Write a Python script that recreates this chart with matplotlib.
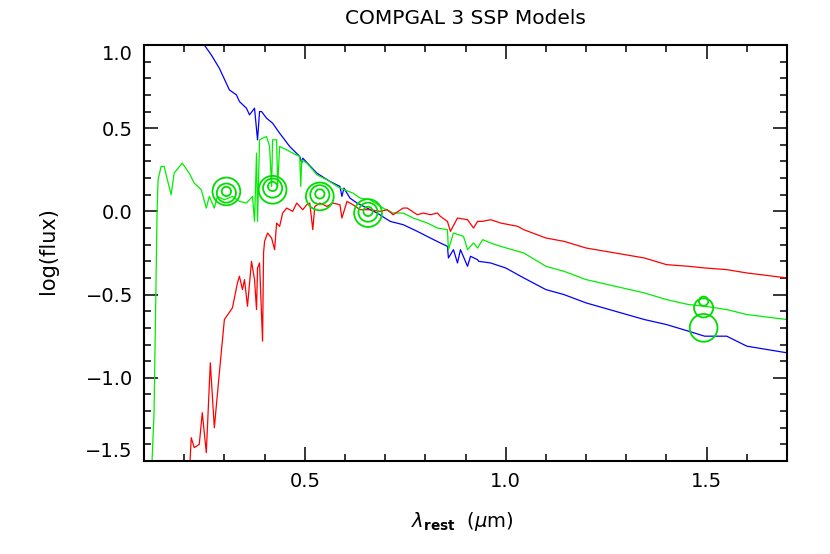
import matplotlib
matplotlib.use("Agg")
import matplotlib.pyplot as plt

# young SSP (blue)
blue_wave = [0.25, 0.2675, 0.2875, 0.3125, 0.33, 0.3375, 0.355, 0.3625, 0.375, 0.3825,
             0.3875, 0.3925, 0.405, 0.42, 0.4375, 0.4625, 0.4875, 0.4925, 0.495, 0.53,
             0.5625, 0.5875, 0.5925, 0.5975, 0.6125, 0.63, 0.68, 0.7125, 0.745, 0.78,
             0.8125, 0.8375, 0.855, 0.8575, 0.87, 0.88, 0.8875, 0.905, 0.9125, 0.93,
             0.9325, 0.9625, 1.0, 1.045, 1.10, 1.145, 1.20, 1.345, 1.40, 1.455,
             1.495, 1.55, 1.60, 1.70]
blue_flux = [1.0, 0.94, 0.86, 0.73, 0.70, 0.66, 0.62, 0.58, 0.62, 0.43,
             0.60, 0.60, 0.56, 0.53, 0.47, 0.39, 0.33, 0.29, 0.32, 0.23,
             0.18, 0.15, 0.09, 0.14, 0.08, 0.05, -0.01, -0.06, -0.08, -0.12,
             -0.16, -0.19, -0.21, -0.28, -0.23, -0.31, -0.23, -0.33, -0.27, -0.29,
             -0.30, -0.31, -0.34, -0.40, -0.47, -0.50, -0.55, -0.65, -0.68, -0.72,
             -0.75, -0.75, -0.81, -0.85]

# intermediate SSP (green)
green_wave = [0.115, 0.12, 0.125, 0.13, 0.1325, 0.135, 0.1425, 0.15, 0.1675, 0.175,
              0.195, 0.2125, 0.225, 0.2425, 0.255, 0.2625, 0.275, 0.2825, 0.30, 0.32,
              0.3375, 0.355, 0.3625, 0.37, 0.375, 0.38, 0.3825, 0.3875, 0.395, 0.405,
              0.4125, 0.4175, 0.42, 0.43, 0.4325, 0.4375, 0.455, 0.47, 0.4875, 0.49,
              0.4925, 0.505, 0.52, 0.53, 0.555, 0.5875, 0.62, 0.6375, 0.6625, 0.695,
              0.72, 0.745, 0.77, 0.805, 0.83, 0.855, 0.8575, 0.87, 0.895, 0.905,
              0.92, 0.93, 0.9425, 0.9625, 0.9875, 1.03, 1.045, 1.10, 1.145, 1.20,
              1.345, 1.40, 1.455, 1.495, 1.55, 1.60, 1.70]
green_flux = [-1.6, -1.5, -1.21, -0.41, 0.0, 0.19, 0.27, 0.27, 0.10, 0.23,
              0.29, 0.23, 0.17, 0.13, 0.02, 0.09, 0.02, 0.09, 0.07, 0.09,
              0.06, 0.05, 0.07, 0.09, -0.06, 0.35, -0.06, 0.43, 0.44, 0.45,
              0.39, 0.15, 0.43, 0.43, 0.15, 0.39, 0.37, 0.35, 0.33, 0.15,
              0.31, 0.29, 0.25, 0.22, 0.19, 0.14, 0.11, 0.08, 0.07, 0.02,
              -0.01, -0.01, -0.04, -0.07, -0.10, -0.11, -0.23, -0.13, -0.15, -0.23,
              -0.19, -0.22, -0.17, -0.19, -0.21, -0.24, -0.25, -0.33, -0.36, -0.41,
              -0.49, -0.53, -0.56, -0.57, -0.59, -0.62, -0.65]

# old SSP (red)
red_wave = [0.2125, 0.2175, 0.225, 0.2375, 0.245, 0.255, 0.265, 0.275, 0.2875, 0.30,
            0.32, 0.3325, 0.3375, 0.345, 0.35, 0.3575, 0.3675, 0.375, 0.38, 0.3825,
            0.3875, 0.395, 0.3975, 0.40, 0.4075, 0.4175, 0.425, 0.43, 0.4375, 0.445,
            0.455, 0.47, 0.48, 0.495, 0.505, 0.5125, 0.52, 0.525, 0.5375, 0.555,
            0.57, 0.5875, 0.5925, 0.605, 0.62, 0.6375, 0.6625, 0.6875, 0.705, 0.72,
            0.7325, 0.745, 0.755, 0.78, 0.795, 0.8125, 0.83, 0.8375, 0.855, 0.8625,
            0.88, 0.905, 0.92, 0.93, 0.9425, 0.9625, 0.9875, 1.03, 1.045, 1.10,
            1.145, 1.20, 1.345, 1.40, 1.455, 1.495, 1.55, 1.60, 1.70]
red_flux = [-1.6, -1.36, -1.42, -1.40, -1.21, -1.45, -0.91, -1.30, -0.97, -0.65,
            -0.58, -0.43, -0.39, -0.47, -0.41, -0.57, -0.30, -0.41, -0.59, -0.34,
            -0.31, -0.78, -0.25, -0.18, -0.13, -0.16, -0.23, -0.07, -0.09, -0.01,
            0.02, 0.0, 0.05, 0.01, 0.04, 0.05, -0.11, 0.03, 0.05, 0.03,
            0.05, 0.04, -0.04, 0.06, 0.04, 0.01, 0.01, 0.0, 0.01, -0.02,
            0.0, 0.02, 0.02, -0.02, -0.01, -0.02, -0.01, -0.03, -0.06, -0.12,
            -0.04, -0.05, -0.10, -0.06, -0.06, -0.05, -0.07, -0.09, -0.11, -0.16,
            -0.18, -0.22, -0.28, -0.32, -0.33, -0.34, -0.35, -0.37, -0.40]

# photometric points (three rings per band)
phot_wave = [0.305, 0.42, 0.5375, 0.6575, 1.4925]
phot_big = [0.12, 0.13, 0.09, -0.01, -0.70]
phot_mid = [0.11, 0.14, 0.10, -0.005, -0.58]
phot_small = [0.12, 0.15, 0.105, 0.0, -0.54]

plt.rcParams['font.family'] = ['DejaVu Sans']
plt.rcParams['mathtext.fontset'] = 'dejavusans'

fig = plt.figure(figsize=(8.3, 5.54), dpi=100)
ax = fig.add_axes([0.1735, 0.1679, 0.7747, 0.7509])

lw = 0.9
ax.plot(blue_wave, blue_flux, color='#0000ff', lw=lw)
ax.plot(green_wave, green_flux, color='#00ee00', lw=lw)
ax.plot(red_wave, red_flux, color='#ff0000', lw=lw)

ax.scatter(phot_wave, phot_big, s=400, facecolors='none', edgecolors='#00dd00', linewidths=1.3, zorder=5)
ax.scatter(phot_wave, phot_mid, s=190, facecolors='none', edgecolors='#00dd00', linewidths=1.3, zorder=5)
ax.scatter(phot_wave, phot_small, s=45, facecolors='none', edgecolors='#00dd00', linewidths=1.3, zorder=5)

ax.set_xlim(0.1, 1.7)
ax.set_ylim(-1.5, 1.0)
ax.set_xticks([0.5, 1.0, 1.5])
ax.set_xticks([0.1 * i for i in range(1, 18)], minor=True)
ax.set_yticks([-1.5, -1.0, -0.5, 0.0, 0.5, 1.0])
ax.set_yticks([-1.5 + 0.1 * i for i in range(26)], minor=True)
ax.set_xticklabels(['0.5', '1.0', '1.5'])
ax.set_yticklabels(['\u22121.5', '\u22121.0', '\u22120.5', '0.0', '0.5', '1.0'])

ax.tick_params(which='both', direction='in', top=True, right=True, width=1.1, labelsize=14)
ax.tick_params(which='major', length=10, pad=8)
ax.tick_params(which='minor', length=5)
for s in ax.spines.values():
    s.set_linewidth(1.5)

ylabs = ax.get_yticklabels()
ylabs[0].set_va('bottom')
ylabs[-1].set_va('top')

ax.set_xlabel(r'$\lambda_{\mathbf{rest}}$  ($\mu$m)', fontsize=14)
ax.xaxis.set_label_coords(0.496, -0.118)
ax.set_ylabel('log(flux)', fontsize=15)
ax.yaxis.set_label_coords(-0.134, 0.507)

fig.text(465.5 / 830, 1 - 18 / 554, 'COMPGAL 3 SSP Models', ha='center', va='center',
         fontsize=14.5)

fig.savefig('out.png', dpi=100)
